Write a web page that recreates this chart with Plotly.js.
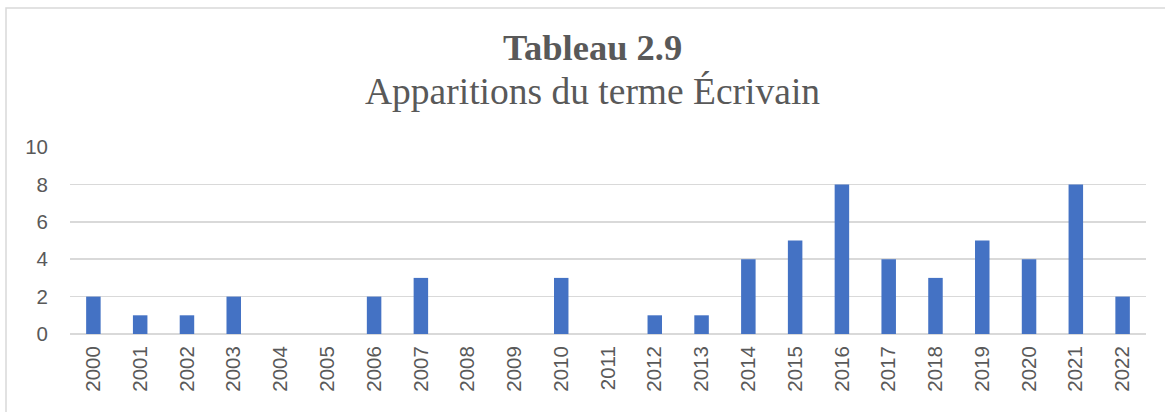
<!DOCTYPE html>
<html>
<head>
<meta charset="utf-8">
<script src="https://cdn.plot.ly/plotly-3.0.1.min.js"></script>
<style>html,body{margin:0;padding:0;background:#fff;}#chart{width:1165px;height:412px;}</style>
</head>
<body>
<div id="chart"></div>
<script>
const years = ["2000","2001","2002","2003","2004","2005","2006","2007","2008","2009","2010","2011","2012","2013","2014","2015","2016","2017","2018","2019","2020","2021","2022"];
const counts = [2,1,1,2,0,0,2,3,0,0,3,0,1,1,4,5,8,4,3,5,4,8,2];
const yTicks = [0,2,4,6,8,10];
const titleMain = "Tableau 2.9";
const titleSub = "Apparitions du terme Écrivain";

const W = 1165, H = 412;
const L = 70, R = 19, T = 147, B = 78;
const pw = W - L - R, ph = H - T - B;
const px2x = p => (p - L) / pw;
const py2y = p => (H - B - p) / ph;
const serif = 'Liberation Serif, Times New Roman, serif';

const trace = {
  type: 'bar',
  x: years,
  y: counts,
  marker: {color: '#4472C4'},
  hoverinfo: 'x+y'
};

const layout = {
  width: W, height: H,
  margin: {l: L, r: R, t: T, b: B, pad: 0},
  paper_bgcolor: '#ffffff',
  plot_bgcolor: '#ffffff',
  bargap: 0.69,
  showlegend: false,
  xaxis: {
    type: 'category',
    tickangle: -90,
    tickfont: {family: 'Liberation Sans, Arial, sans-serif', size: 20.5, color: '#595959'},
    showgrid: false,
    showline: false,
    zeroline: false,
    ticks: '',
    ticklabelstandoff: 7
  },
  yaxis: {
    range: [0, 10],
    tickvals: yTicks,
    ticktext: yTicks.map(String),
    tickfont: {family: 'Liberation Sans, Arial, sans-serif', size: 20.5, color: '#595959'},
    showgrid: true,
    gridcolor: '#d9d9d9',
    gridwidth: 1.5,
    zeroline: true,
    zerolinecolor: '#d9d9d9',
    zerolinewidth: 1.5,
    showline: false,
    ticks: '',
    ticklabelstandoff: 21,
    fixedrange: true
  },
  annotations: [
    {text: '<b>' + titleMain + '</b>', xref: 'paper', yref: 'paper',
     x: px2x(592), y: py2y(70), xanchor: 'center', yanchor: 'bottom', showarrow: false,
     font: {family: serif, size: 36.5, color: '#595959'}},
    {text: titleSub, xref: 'paper', yref: 'paper',
     x: px2x(592), y: py2y(114), xanchor: 'center', yanchor: 'bottom', showarrow: false,
     font: {family: serif, size: 37.5, color: '#595959'}}
  ],
  shapes: [{
    type: 'rect', xref: 'paper', yref: 'paper',
    x0: px2x(6), x1: px2x(1175), y0: py2y(425), y1: py2y(8),
    line: {color: '#d9d9d9', width: 1.5},
    fillcolor: 'rgba(0,0,0,0)',
    layer: 'below'
  }]
};

Plotly.newPlot('chart', [trace], layout, {displayModeBar: false, staticPlot: true});
</script>
</body>
</html>
